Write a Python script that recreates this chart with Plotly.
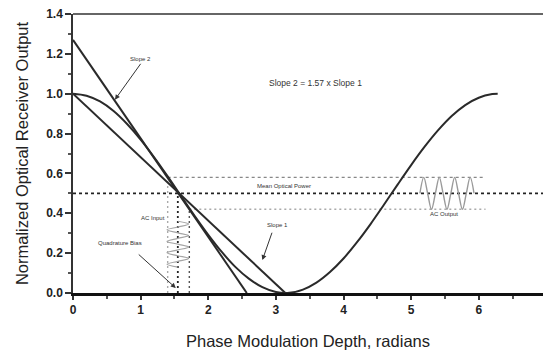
import plotly.graph_objects as go

# Transfer curve (phase depth, normalized output)
curve_x = [0, 0.2, 0.4, 0.6, 0.8, 1.0, 1.2, 1.4, 1.6, 1.8, 2.0, 2.2, 2.4, 2.6, 2.8, 3.0,
           3.2, 3.4, 3.6, 3.8, 4.0, 4.2, 4.4, 4.6, 4.8, 5.0, 5.2, 5.4, 5.6, 5.8, 6.0, 6.2, 6.28]
curve_y = [1.000, 0.990, 0.961, 0.913, 0.848, 0.770, 0.681, 0.585, 0.485, 0.386, 0.292,
           0.206, 0.131, 0.072, 0.029, 0.005, 0.001, 0.017, 0.052, 0.105, 0.173, 0.255,
           0.346, 0.444, 0.544, 0.642, 0.734, 0.817, 0.888, 0.943, 0.980, 0.998, 1.000]

slope2_x = [0, 2.57]
slope2_y = [1.27, 0]
slope1_x = [0, 3.14]
slope1_y = [1.0, 0]

mean_power = 0.5
upper_level = 0.58
lower_level = 0.42
bias_x = 1.55
input_lo_x = 1.40
input_hi_x = 1.72
level_end_x = 6.1
x_max = 6.95

# AC input (oscillates in x, runs down the y axis)
ac_in_y = [0.36, 0.346, 0.331, 0.317, 0.302, 0.288, 0.274, 0.259, 0.245,
           0.231, 0.216, 0.202, 0.187, 0.173, 0.159, 0.144, 0.13]
ac_in_x = [1.55, 1.71, 1.55, 1.39, 1.55, 1.71, 1.55, 1.39, 1.55,
           1.71, 1.55, 1.39, 1.55, 1.71, 1.55, 1.39, 1.55]

# AC output
ac_out_x = [5.13, 5.187, 5.244, 5.301, 5.359, 5.416, 5.473, 5.53, 5.587,
            5.644, 5.701, 5.759, 5.816, 5.873, 5.93]
ac_out_y = [0.5, 0.58, 0.5, 0.42, 0.5, 0.58, 0.5, 0.42, 0.5, 0.58, 0.5, 0.42, 0.5, 0.58, 0.5]

x_ticks = [0, 1, 2, 3, 4, 5, 6]
y_ticks = [0.0, 0.2, 0.4, 0.6, 0.8, 1.0, 1.2, 1.4]

DARK = "#2a2a2a"
fig = go.Figure()

def line(x, y, color, width, dash="solid", shape="linear"):
    fig.add_trace(go.Scatter(x=x, y=y, mode="lines", showlegend=False, hoverinfo="skip",
                             line=dict(color=color, width=width, dash=dash, shape=shape)))

# reference levels
line([0, x_max], [mean_power, mean_power], "#222", 1.6, "3px,3px")
line([input_lo_x, level_end_x], [upper_level, upper_level], "#888", 1.4, "3px,3px")
line([input_hi_x, level_end_x], [lower_level, lower_level], "#aaa", 1.4, "2px,3px")
line([input_lo_x, input_lo_x], [0, upper_level], "#aaa", 1.4, "2px,3px")
line([bias_x, bias_x], [0, mean_power], "#222", 1.8, "2px,3px")
line([input_hi_x, input_hi_x], [0, lower_level], "#555", 1.4, "2px,3px")

# AC signals
line(ac_in_x, ac_in_y, "#a5a5a5", 1.2, shape="spline")
line(ac_out_x, ac_out_y, "#9a9a9a", 1.4, shape="spline")

# main curves
line(slope2_x, slope2_y, DARK, 2)
line(slope1_x, slope1_y, DARK, 2)
line(curve_x, curve_y, DARK, 2, shape="spline")

small = dict(family="Liberation Sans, Arial", size=6, color="#333")
ann = [
    dict(x=0.62, y=0.97, ax=1.0, ay=1.15, text="Slope 2"),
    dict(x=1.52, y=0.025, ax=0.95, ay=0.2, text=""),
    dict(x=2.80, y=0.165, ax=2.95, ay=0.31, text=""),
]
for a in ann:
    fig.add_annotation(x=a["x"], y=a["y"], ax=a["ax"], ay=a["ay"], xref="x", yref="y",
                       axref="x", ayref="y", text=a["text"], showarrow=True, arrowhead=2,
                       arrowsize=1, arrowwidth=1, arrowcolor="#333", font=small,
                       yanchor="bottom" if a["text"] else "middle")

texts = [
    (3.58, 1.056, "Slope 2 = 1.57 x Slope 1", 8.5),
    (3.12, 0.537, "Mean Optical Power", 6),
    (1.19, 0.375, "AC Input", 6),
    (0.70, 0.252, "Quadrature Bias", 6),
    (3.03, 0.34, "Slope 1", 6),
    (5.48, 0.395, "AC Output", 6),
]
for x, y, t, s in texts:
    fig.add_annotation(x=x, y=y, xref="x", yref="y", text=t, showarrow=False,
                       font=dict(family="Liberation Sans, Arial", size=s, color="#333"))

# top frame line
fig.add_shape(type="line", xref="paper", yref="paper", x0=0, x1=1, y0=1, y1=1,
              line=dict(color="#666", width=2))

tickfont = dict(family="Liberation Sans, Arial", size=12, color="#222", weight="bold")
titlefont = dict(family="Liberation Sans, Arial", size=16.5, color="#222")
fig.update_xaxes(range=[0, x_max], tickvals=x_ticks, ticktext=[str(v) for v in x_ticks],
                 showline=True, linecolor="#111", linewidth=2.5, showgrid=False, zeroline=False,
                 ticks="outside", ticklen=4, tickwidth=1.5, tickcolor="#333", tickfont=tickfont,
                 minor=dict(dtick=0.5, tick0=0, ticks="outside", ticklen=3, tickcolor="#555"),
                 title=dict(text="Phase Modulation Depth, radians", standoff=20, font=titlefont))
fig.update_yaxes(range=[0, 1.4], tickvals=y_ticks, ticktext=[f"{v:.1f}" for v in y_ticks],
                 showline=True, linecolor="#333", linewidth=1.5, showgrid=False, zeroline=False,
                 ticks="outside", ticklen=6, tickwidth=1.5, tickcolor="#333", tickfont=tickfont,
                 minor=dict(dtick=0.1, tick0=0, ticks="outside", ticklen=3, tickcolor="#555"),
                 title=dict(text="Normalized Optical Receiver Output", standoff=13, font=titlefont))

fig.update_layout(width=543, height=354, margin=dict(l=73, r=0, t=14, b=61),
                  plot_bgcolor="white", paper_bgcolor="white")
fig.write_html("out.html", config={"displayModeBar": False},
               post_script="document.body.style.margin='0';document.body.style.padding='0';")
